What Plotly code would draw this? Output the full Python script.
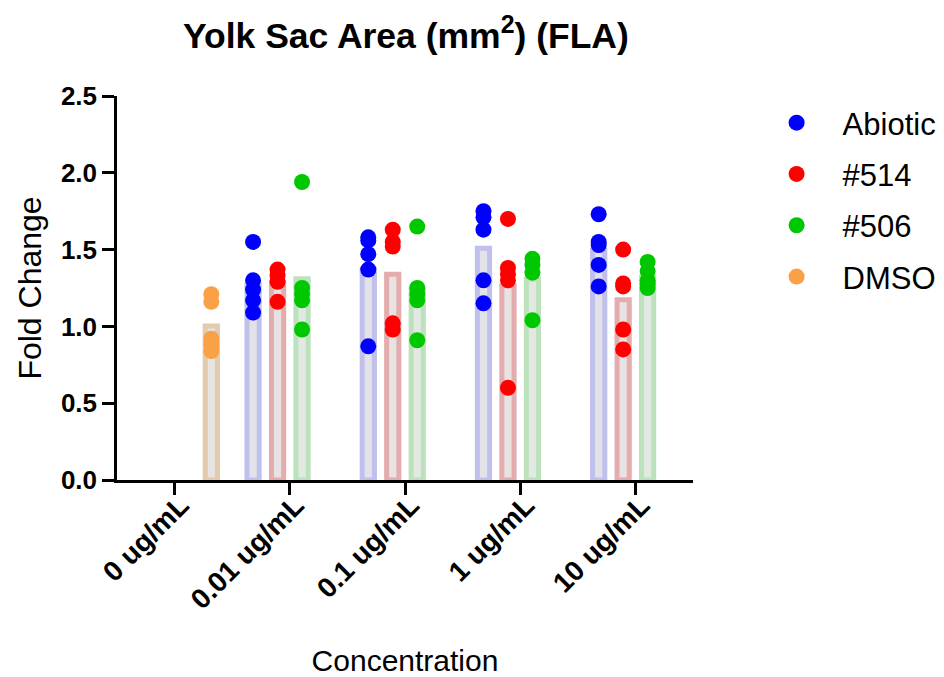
import numpy as np
import plotly.graph_objects as go

categories = ["0 ug/mL", "0.01 ug/mL", "0.1 ug/mL", "1 ug/mL", "10 ug/mL"]
series_names = ["Abiotic", "#514", "#506", "DMSO"]

abiotic_vals = [[], [1.55, 1.30, 1.24, 1.17, 1.09], [1.58, 1.56, 1.47, 1.37, 0.87],
                [1.75, 1.71, 1.63, 1.30, 1.15], [1.73, 1.55, 1.53, 1.40, 1.26]]
s514_vals = [[], [1.37, 1.33, 1.29, 1.16], [1.63, 1.55, 1.52, 1.02, 0.98],
             [1.70, 1.38, 1.34, 1.30, 0.60], [1.50, 1.28, 1.26, 0.98, 0.85]]
s506_vals = [[], [1.94, 1.25, 1.21, 1.17, 0.98], [1.65, 1.25, 1.21, 1.17, 0.91],
             [1.44, 1.40, 1.35, 1.04], [1.42, 1.36, 1.30, 1.28, 1.25]]
dmso_vals = [[1.21, 1.16, 0.92, 0.88, 0.84], [], [], [], []]

colors = ["rgb(0,0,255)", "rgb(255,0,0)", "rgb(0,200,0)", "rgb(250,160,70)"]
bar_lines = ["rgb(192,192,236)", "rgb(228,172,172)", "rgb(188,226,188)", "rgb(226,202,172)"]
bar_fills = ["rgb(226,226,232)", "rgb(232,226,226)", "rgb(226,232,226)", "rgb(230,228,226)"]

all_vals = [abiotic_vals, s514_vals, s506_vals, dmso_vals]
FONT = "Liberation Sans, Arial, sans-serif"

fig = go.Figure()
for name, vals, col, lc, fc in zip(series_names, all_vals, colors, bar_lines, bar_fills):
    means = [float(np.mean(v)) if len(v) else None for v in vals]
    fig.add_trace(go.Bar(
        x=categories, y=means, name=name, offsetgroup=name, legendgroup=name,
        showlegend=False, marker=dict(color=fc, line=dict(color=lc, width=5)),
        hoverinfo="skip"))
for name, vals, col in zip(series_names, all_vals, colors):
    xs, ys = [], []
    for c, v in zip(categories, vals):
        xs += [c] * len(v)
        ys += v
    fig.add_trace(go.Scatter(
        x=xs, y=ys, mode="markers", name=name, offsetgroup=name, legendgroup=name,
        marker=dict(color=col, size=16)))

fig.update_layout(
    width=944, height=677,
    paper_bgcolor="white", plot_bgcolor="white",
    barmode="group", bargap=0.15, bargroupgap=0.5,
    scattermode="group", scattergap=0.15,
    margin=dict(l=117, r=251, t=96, b=197, autoexpand=False),
    font=dict(family=FONT, color="black"),
    title=dict(text="<b>Yolk Sac Area (mm<sup>2</sup>) (FLA)</b>", x=0.43, xanchor="center",
               y=0.948, yanchor="middle", font=dict(size=35.5, family=FONT, color="black")),
    legend=dict(x=1.1, y=1.0, xanchor="left", yanchor="top", font=dict(size=31, family=FONT),
                tracegroupgap=8, itemwidth=82),
    xaxis=dict(showline=True, linecolor="black", linewidth=2.5, ticks="outside", ticklen=12,
               tickwidth=2.5, tickcolor="black", tickangle=-45, automargin=False,
               ticklabelstandoff=-17, ticklabelshift=6,
               tickfont=dict(size=28, family=FONT, weight="bold"),
               title=dict(text="Concentration", font=dict(size=30, family=FONT), standoff=44),
               showgrid=False, zeroline=False),
    yaxis=dict(range=[0, 2.5], tickvals=[0, 0.5, 1.0, 1.5, 2.0, 2.5], tickformat=".1f",
               showline=True, linecolor="black", linewidth=2.5, ticks="outside", ticklen=12,
               tickwidth=2.5, tickcolor="black", automargin=False,
               tickfont=dict(size=26, family=FONT, weight="bold"),
               title=dict(text="Fold Change", font=dict(size=32, family=FONT), standoff=10),
               showgrid=False, zeroline=False),
)
fig.write_html("out.html")
